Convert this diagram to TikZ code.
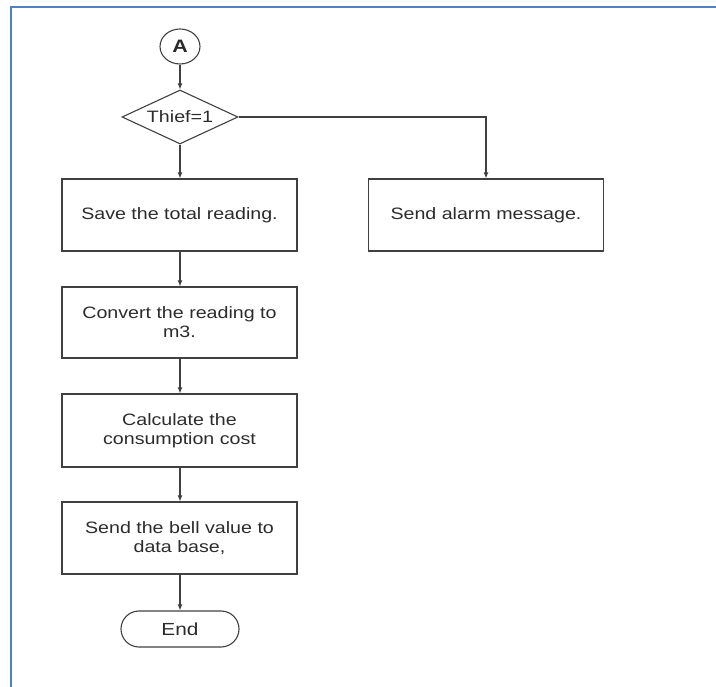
\documentclass[tikz,border=0pt]{standalone}
\usepackage{fontspec}
\newfontfamily\arialx[FakeStretch=1.19]{Liberation Sans}
\usetikzlibrary{shapes.geometric,arrows.meta}
\definecolor{wordblue}{HTML}{4F81BD}
\definecolor{lineg}{HTML}{404040}
\definecolor{textg}{HTML}{2B2B2B}
\begin{document}
\begin{tikzpicture}[x=1pt,y=-1pt,
  every node/.style={text=textg, font=\arialx\fontsize{16.5}{19}\selectfont},
  procbox/.style={draw=lineg, line width=1.2pt, rectangle, minimum width=235pt, minimum height=72pt, inner sep=0pt, align=center},
  decbox/.style={draw=lineg, line width=1.1pt, diamond, minimum width=116pt, minimum height=54pt, inner sep=0pt},
  conn/.style={draw=lineg, line width=1.1pt, ellipse, minimum width=40pt, minimum height=35pt, inner sep=0pt, font=\arialx\fontsize{18}{19}\selectfont},
  termbox/.style={draw=lineg, line width=1.1pt, rounded corners=18pt, minimum width=118pt, minimum height=36pt, inner sep=0pt, font=\arialx\fontsize{17.5}{19}\selectfont},
  flow/.style={draw=lineg, line width=1.1pt, -{Latex[length=6pt,width=5pt]}}
]
\useasboundingbox (0,0) rectangle (716,687);
\draw[wordblue, line width=2pt] (11,687) -- (11,7.5) -- (716,7.5);

\node[conn] (a) at (180,46.5) {\textbf{A}};
\node[decbox] (d) at (180,117) {};
\node (dt) at (180,117) {Thief=1};
\node[procbox] (save) at (179.5,215) {Save the total reading.};
\node[procbox] (alarm) at (486,215) {Send alarm message.};
\node[procbox, minimum height=71pt] (conv) at (179.5,322.5) {Convert the reading to\\m3.};
\node[procbox, minimum height=73pt] (calc) at (179.5,430.5) {Calculate the\\consumption cost};
\node[procbox] (bell) at (179.5,538) {Send the bell value to\\data base,};
\node[termbox] (end) at (180,629) {End};

\draw[flow] (a) -- (d);
\draw[flow] (d.east) -| (alarm.north);
\draw[flow] (d.south) -- (save.north -| d.south);
\draw[flow] (save.south -| d.south) -- (conv.north -| d.south);
\draw[flow] (conv.south -| d.south) -- (calc.north -| d.south);
\draw[flow] (calc.south -| d.south) -- (bell.north -| d.south);
\draw[flow] (bell.south -| d.south) -- (end.north);
\end{tikzpicture}
\end{document}
